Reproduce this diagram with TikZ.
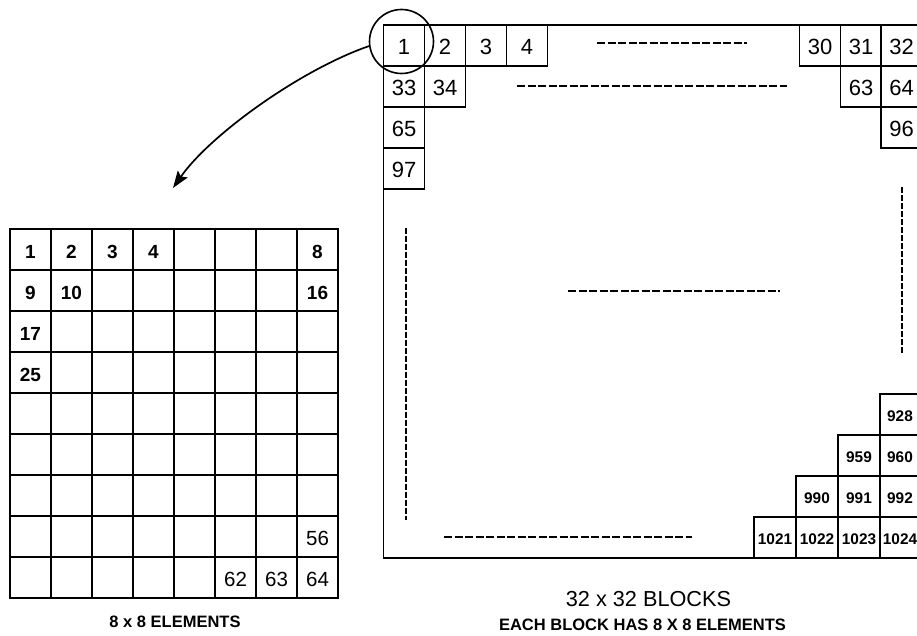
\documentclass[tikz,border=0pt]{standalone}
\usepackage{fontspec}
\setmainfont{Liberation Sans}
\usetikzlibrary{arrows.meta}
\begin{document}
\begin{tikzpicture}[x=1pt,y=-1pt,
  ecell/.style={draw, line width=2.4pt, minimum width=41pt, minimum height=41pt, inner sep=0pt},
  bcell/.style={draw, line width=1.7pt, minimum width=41pt, minimum height=41pt, inner sep=0pt,
    text height=19pt, text depth=0pt, font=\fontsize{22}{22}\selectfont},
  ccell/.style={draw, line width=1.7pt, minimum width=42pt, minimum height=41pt, inner sep=0pt,
    text height=13.5pt, text depth=0pt, font=\bfseries\fontsize{15.4}{15.4}\selectfont},
  rcell/.style={ccell, minimum width=40pt},
  ebold/.style={font=\bfseries\fontsize{19}{19}\selectfont, yshift=-2pt},
  ereg/.style={font=\fontsize{20.5}{20.5}\selectfont, yshift=-2pt},
  hdash/.style={line width=2.4pt, dash pattern=on 8pt off 2.5pt},
  vdash/.style={line width=2.4pt, dash pattern=on 6pt off 2pt},
  frameline/.style={line width=1.9pt},
  capbold/.style={font=\bfseries\fontsize{16.5}{16.5}\selectfont},
  capbig/.style={font=\fontsize{21.7}{21.7}\selectfont},
]
\clip (0,0) rectangle (917,636);
\fill[white] (0,0) rectangle (917,636);

% ---------- big frame ----------
\draw[frameline] (935,25) -- (383.5,25) -- (383.5,558) -- (935,558);

% top-left blocks
\node[bcell] (b1)  at (404,45.5) {1};
\node[bcell] (b2)  at (445,45.5) {2};
\node[bcell] (b3)  at (486,45.5) {3};
\node[bcell] (b4)  at (527,45.5) {4};
\node[bcell] (b33) at (404,86.5) {33};
\node[bcell] (b34) at (445,86.5) {34};
\node[bcell] (b65) at (404,127.5) {65};
\node[bcell] (b97) at (404,168.5) {97};

% top-right blocks
\node[bcell] (b30) at (820,45.5) {30};
\node[bcell] (b31) at (861,45.5) {31};
\node[bcell] (b32) at (901.5,45.5) {32};
\node[bcell] (b63) at (861,86.5) {63};
\node[bcell] (b64) at (901.5,86.5) {64};
\node[bcell] (b96) at (901.5,127.5) {96};

% bottom-right blocks
\node[rcell] (b928)  at (900,414.5) {928};
\node[ccell] (b959)  at (859,455.5) {959};
\node[rcell] (b960)  at (900,455.5) {960};
\node[ccell] (b990)  at (817,496.5) {990};
\node[ccell] (b991)  at (859,496.5) {991};
\node[rcell] (b992)  at (900,496.5) {992};
\node[ccell] (b1021) at (775,537.5) {1021};
\node[ccell] (b1022) at (817,537.5) {1022};
\node[ccell] (b1023) at (859,537.5) {1023};
\node[rcell] (b1024) at (900,537.5) {1024};

% dashed continuation lines
\draw[hdash] (597,43) -- (747,43);
\draw[hdash] (517,86) -- (787,86);
\draw[hdash] (568,291) -- (780,291);
\draw[hdash] (444,537) -- (692,537);
\draw[vdash] (406,228) -- (406,520);
\draw[vdash] (902,187) -- (902,353);

% circle and arrow
\node[draw, circle, minimum size=64pt, inner sep=0pt, line width=1.6pt] (circ) at (401.5,41.5) {};
\coordinate (tip) at (173,188);
\draw[line width=1.7pt, -{Stealth[length=17pt,width=12pt,inset=3pt]}]
  (circ.188) .. controls (300,70) and (210,135) .. (tip);

% ---------- 8 x 8 element grid ----------
\foreach \r in {0,...,8}
  \foreach \c in {0,...,7}
    \node[ecell] (e-\r-\c) at ({30.5+41*\c},{249.5+41*\r}) {};

\node[ebold] at (e-0-0) {1};
\node[ebold] at (e-0-1) {2};
\node[ebold] at (e-0-2) {3};
\node[ebold] at (e-0-3) {4};
\node[ebold] at (e-0-7) {8};
\node[ebold] at (e-1-0) {9};
\node[ebold] at (e-1-1) {10};
\node[ebold] at (e-1-7) {16};
\node[ebold] at (e-2-0) {17};
\node[ebold] at (e-3-0) {25};
\node[ereg]  at (e-7-7) {56};
\node[ereg]  at (e-8-5) {62};
\node[ereg]  at (e-8-6) {63};
\node[ereg]  at (e-8-7) {64};

% ---------- captions ----------
\node[capbold] (cap1) at (175,621.5) {8 x 8 ELEMENTS};
\node[capbig]  (cap2) at (648.5,599) {32 x 32 BLOCKS};
\node[capbold] (cap3) at (642.5,625) {EACH BLOCK HAS 8 X 8 ELEMENTS};
\end{tikzpicture}
\end{document}
